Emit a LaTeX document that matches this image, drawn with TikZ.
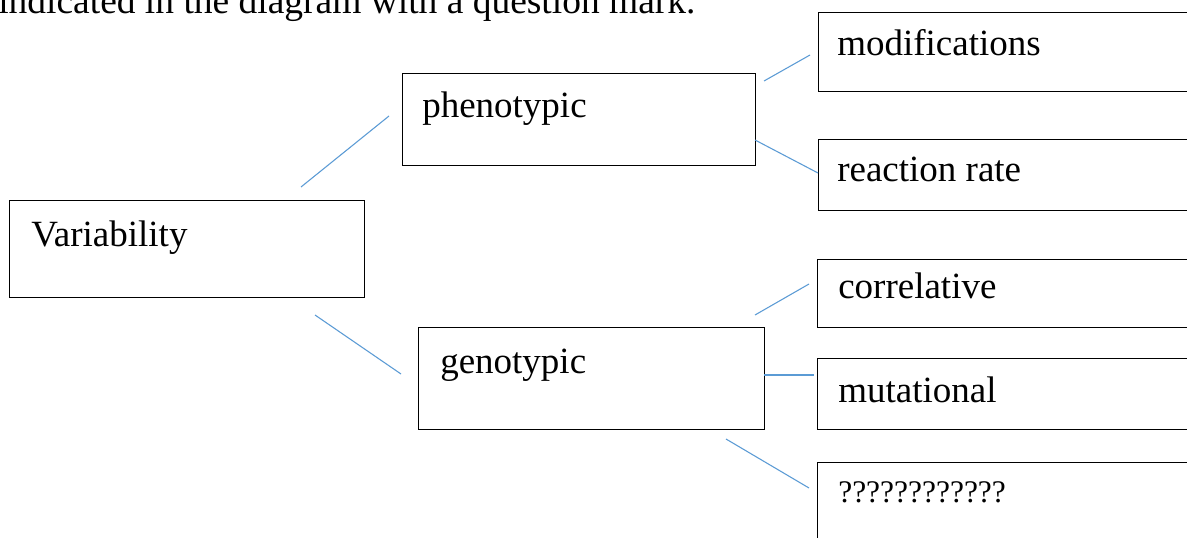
\documentclass[tikz,border=0pt]{standalone}
\usepackage{fontspec}
\setmainfont{Liberation Serif}
\begin{document}
\begin{tikzpicture}[x=0.75pt,y=-0.75pt,
  box/.style={draw=black,line width=1pt,rectangle,inner sep=0pt,anchor=north west},
  lbl/.style={anchor=base west,inner sep=0pt,font=\fontsize{27.75pt}{33pt}\selectfont},
  qlbl/.style={anchor=base west,inner sep=0pt,font=\fontsize{23.6pt}{28pt}\selectfont},
  conn/.style={draw={rgb,255:red,91;green,155;blue,213},line width=0.8pt}]
\useasboundingbox (0,0) rectangle (1187,538);
\clip (0,0) rectangle (1187,538);
\fill[white] (0,0) rectangle (1187,538);
% heading line (cut off)
\node[anchor=base west,inner sep=0pt,font=\fontsize{28.1pt}{33pt}\selectfont] (head) at (-2,14) {indicated in the diagram with a question mark.};
% boxes
\node[box,minimum width=266.25pt,minimum height=72.75pt] (var) at (9,200) {};
\node[box,minimum width=264.75pt,minimum height=69pt] (phe) at (402,73) {};
\node[box,minimum width=259.5pt,minimum height=76.5pt] (gen) at (418,327) {};
\node[box,minimum width=300pt,minimum height=59.25pt] (mod) at (818,12) {};
\node[box,minimum width=300pt,minimum height=53.25pt] (rea) at (818,139) {};
\node[box,minimum width=300pt,minimum height=51pt] (cor) at (817,259) {};
\node[box,minimum width=300pt,minimum height=53.25pt] (mut) at (817,358) {};
\node[box,minimum width=300pt,minimum height=75pt] (que) at (817,462) {};
% texts
\node[lbl] (tvar) at (31,246) {Variability};
\node[lbl] (tphe) at (422,118) {phenotypic};
\node[lbl] (tgen) at (440,373) {genotypic};
\node[lbl] (tmod) at (837,56) {modifications};
\node[lbl] (trea) at (837,182) {reaction rate};
\node[lbl] (tcor) at (838,298) {correlative};
\node[lbl] (tmut) at (838,402) {mutational};
\node[qlbl] (tque) at (838,502) {????????????};
% connector end points
\coordinate (vp1) at (301,187); \coordinate (vp2) at (389,116);
\coordinate (vg1) at (315,315); \coordinate (vg2) at (401,374);
\coordinate (pm1) at (764,81);  \coordinate (pm2) at (810,55);
\coordinate (pr1) at (755,140); \coordinate (pr2) at (818,173);
\coordinate (gc1) at (755,315); \coordinate (gc2) at (809,284);
\coordinate (gm1) at (764,375); \coordinate (gm2) at (814,375);
\coordinate (gq1) at (726,439); \coordinate (gq2) at (809,488);
\draw[conn] (vp1) -- (vp2);
\draw[conn] (vg1) -- (vg2);
\draw[conn] (pm1) -- (pm2);
\draw[conn] (pr1) -- (pr2);
\draw[conn] (gc1) -- (gc2);
\draw[conn] (gm1) -- (gm2);
\draw[conn] (gq1) -- (gq2);
\end{tikzpicture}
\end{document}
